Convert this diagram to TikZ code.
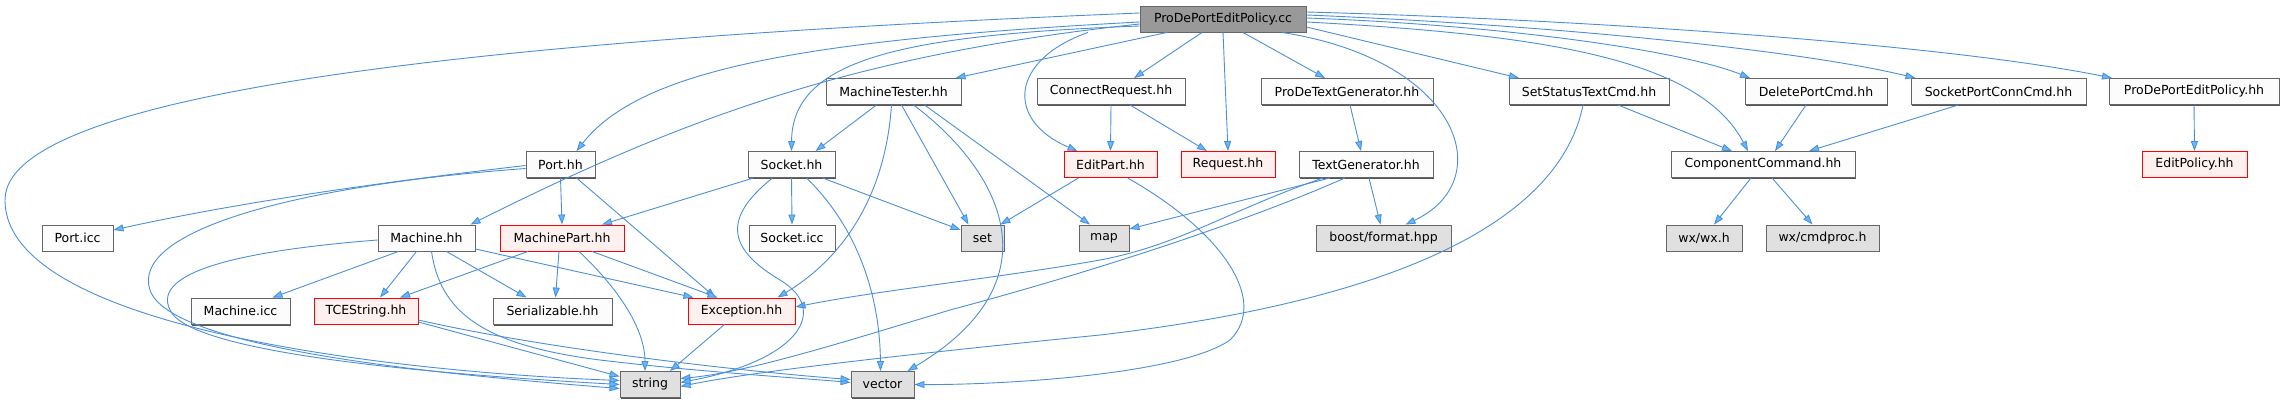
\documentclass[tikz,border=0pt]{standalone}
\usepackage{fontspec}
\setmainfont{DejaVu Sans}
\usetikzlibrary{arrows.meta}
\definecolor{edgec}{HTML}{4A8FD8}
\definecolor{arrowc}{HTML}{63B8FF}
\definecolor{nodeb}{HTML}{666666}
\definecolor{nodef}{HTML}{FBFCFB}
\definecolor{extf}{HTML}{E0E0E0}
\definecolor{rootf}{HTML}{999999}
\definecolor{redf}{HTML}{FFF0F0}
\definecolor{shadowc}{HTML}{555555}
\begin{document}
\begin{tikzpicture}[x=1pt,y=-1pt,
  base/.style={rectangle, inner sep=0pt, minimum height=26pt, font=\fontsize{12.5}{15}\selectfont, line width=0.9pt},
  box/.style={base, draw=nodeb, fill=nodef, preaction={fill=shadowc, draw=none, transform canvas={shift={(1.2pt,-1.5pt)}}}},
  extbox/.style={base, draw=nodeb, fill=extf, preaction={fill=shadowc, draw=none, transform canvas={shift={(1.2pt,-1.5pt)}}}},
  rootbox/.style={base, draw=nodeb, fill=rootf, preaction={fill=black!70, draw=none, transform canvas={shift={(1.2pt,-1.5pt)}}}},
  redbox/.style={base, draw=red, fill=redf},
  dep/.style={draw=edgec, line width=0.9pt, -{Triangle[length=10pt,width=7pt,fill=arrowc]}}]
\useasboundingbox (0,0) rectangle (2285,403);
% row 1
\node[rootbox, minimum width=166pt] (cc) at (1223,19) {ProDePortEditPolicy.cc};
% row 2
\node[box, minimum width=135pt] (mt) at (893.5,91.5) {MachineTester.hh};
\node[box, minimum width=148pt] (cr) at (1111,91.5) {ConnectRequest.hh};
\node[box, minimum width=172pt] (pdtg) at (1347,91.5) {ProDeTextGenerator.hh};
\node[box, minimum width=160pt] (sst) at (1589,91.5) {SetStatusTextCmd.hh};
\node[box, minimum width=142pt] (dpc) at (1816,91.5) {DeletePortCmd.hh};
\node[box, minimum width=175pt] (spc) at (1998.5,91.5) {SocketPortConnCmd.hh};
\node[box, minimum width=170pt] (pdh) at (2194,91.5) {ProDePortEditPolicy.hh};
% row 3
\node[box, minimum width=69pt] (port) at (560.5,164.5) {Port.hh};
\node[box, minimum width=87pt] (sock) at (791.5,164.5) {Socket.hh};
\node[redbox, minimum width=93pt] (ep) at (1110.5,164.5) {EditPart.hh};
\node[redbox, minimum width=94pt] (req) at (1228,164.5) {Request.hh};
\node[box, minimum width=134pt] (tg) at (1366,164.5) {TextGenerator.hh};
\node[box, minimum width=184pt] (cmd) at (1763,164.5) {ComponentCommand.hh};
\node[redbox, minimum width=105pt] (epol) at (2194.5,164.5) {EditPolicy.hh};
% row 4
\node[box, minimum width=71pt] (picc) at (77.5,238) {Port.icc};
\node[box, minimum width=97pt] (mach) at (426.5,238) {Machine.hh};
\node[redbox, minimum width=124pt] (mp) at (562,238) {MachinePart.hh};
\node[box, minimum width=86pt] (sicc) at (792,238) {Socket.icc};
\node[extbox, minimum width=43pt] (set) at (982.5,238) {set};
\node[extbox, minimum width=50pt] (map) at (1104,238) {map};
\node[extbox, minimum width=135pt] (bf) at (1383.5,238) {boost/format.hpp};
\node[extbox, minimum width=76pt] (wx) at (1704,238) {wx/wx.h};
\node[extbox, minimum width=113pt] (wxc) at (1822.5,238) {wx/cmdproc.h};
% row 5
\node[box, minimum width=99pt] (micc) at (240.5,311) {Machine.icc};
\node[redbox, minimum width=104pt] (tce) at (366,311) {TCEString.hh};
\node[box, minimum width=119pt] (ser) at (552.5,311) {Serializable.hh};
\node[redbox, minimum width=107pt] (exc) at (741.5,311) {Exception.hh};
% row 6
\node[extbox, minimum width=60pt] (str) at (650,384.5) {string};
\node[extbox, minimum width=63pt] (vec) at (882.5,384.5) {vector};

% edges from root
\draw[dep] ([yshift=6pt]cc.west) .. controls (600,35) and (5,80) .. (5,200) .. controls (5,330) and (400,372) .. ([yshift=4pt]str.west);
\draw[dep] ([yshift=-3pt]cc.west) .. controls (800,40) and (640,70) .. ([xshift=16pt]port.north);
\draw[dep] ([yshift=-5pt]cc.west) .. controls (850,55) and (680,120) .. ([xshift=44pt]mach.north);
\draw[dep] ([yshift=-7pt]cc.west) .. controls (900,35) and (792,60) .. (sock.north);
\draw[dep] ([xshift=-56pt]cc.south) -- ([xshift=62pt]mt.north);
\draw[dep] ([xshift=-135pt]cc.south) .. controls (1010,60) and (1005,120) .. ([xshift=-33pt]ep.north);
\draw[dep] ([xshift=-21pt]cc.south) -- ([xshift=23pt]cr.north);
\draw[dep] (cc.south) -- (req.north);
\draw[dep] ([xshift=20pt]cc.south) -- ([xshift=-22pt]pdtg.north);
\draw[dep] ([xshift=59pt]cc.south) .. controls (1460,60) and (1500,180) .. ([xshift=22pt]bf.north);
\draw[dep] ([yshift=-8pt]cc.east) -- ([xshift=-70pt]sst.north);
\draw[dep] ([yshift=-3pt]cc.east) .. controls (1550,35) and (1700,60) .. ([xshift=-15pt]cmd.north);
\draw[dep] ([yshift=1pt]cc.east) .. controls (1500,25) and (1680,50) .. ([xshift=-66pt]dpc.north);
\draw[dep] ([yshift=4pt]cc.east) .. controls (1550,25) and (1800,50) .. ([xshift=-83pt]spc.north);
\draw[dep] ([yshift=7pt]cc.east) .. controls (1600,20) and (1950,45) .. ([xshift=-82pt]pdh.north);

% second level
\draw[dep] (cr.south) -- (ep.north);
\draw[dep] ([xshift=19pt]cr.south) -- ([xshift=-21pt]req.north);
\draw[dep] ([xshift=3pt]pdtg.south) -- ([xshift=-5pt]tg.north);
\draw[dep] (pdh.south) -- (epol.north);
\draw[dep] ([xshift=29pt]sst.south) -- ([xshift=-31pt]cmd.north);
\draw[dep] ([xshift=-10pt]dpc.south) -- ([xshift=12pt]cmd.north);
\draw[dep] ([xshift=-40pt]spc.south) -- ([xshift=46pt]cmd.north);
\draw[dep] ([xshift=-6pt]sst.south) .. controls (1560,220) and (1400,300) .. (1100,335) .. controls (900,355) and (750,372) .. ([yshift=-2pt]str.east);
\draw[dep] ([xshift=-12pt]cmd.south) -- ([xshift=10pt]wx.north);
\draw[dep] ([xshift=9pt]cmd.south) -- ([xshift=-10pt]wxc.north);

% TextGenerator
\draw[dep] ([xshift=-36pt]tg.south) -- ([yshift=9pt]map.east);
\draw[dep] ([xshift=-43pt]tg.south) .. controls (1230,210) and (1180,245) .. (1100,260) .. controls (1000,278) and (880,290) .. ([yshift=4pt]exc.east);
\draw[dep] ([xshift=-21pt]tg.south) .. controls (1250,220) and (1100,270) .. (950,310) .. controls (850,340) and (750,372) .. ([yshift=6pt]str.east);
\draw[dep] ([xshift=3pt]tg.south) -- ([xshift=-3pt]bf.north);

% EditPart
\draw[dep] ([xshift=-32pt]ep.south) -- ([xshift=18pt]set.north);
\draw[dep] ([xshift=17pt]ep.south) .. controls (1220,230) and (1270,300) .. (1230,340) .. controls (1180,375) and (1000,385) .. (vec.east);

% MachineTester
\draw[dep] ([xshift=-17pt]mt.south) -- ([xshift=24pt]sock.north);
\draw[dep] ([xshift=-2pt]mt.south) .. controls (885,200) and (840,260) .. ([xshift=36pt]exc.north);
\draw[dep] ([xshift=8pt]mt.south) -- ([xshift=-14pt]set.north);
\draw[dep] ([xshift=20pt]mt.south) .. controls (1000,170) and (1060,280) .. ([xshift=25pt]vec.north);
\draw[dep] ([xshift=31pt]mt.south) -- ([xshift=-14pt]map.north);

% Socket
\draw[dep] ([xshift=-38pt]sock.south) -- ([xshift=40pt]mp.north);
\draw[dep] (sock.south) -- (sicc.north);
\draw[dep] ([xshift=31pt]sock.south) -- ([yshift=8pt]set.west);
\draw[dep] ([xshift=15pt]sock.south) .. controls (860,230) and (880,300) .. ([xshift=-2pt]vec.north);
\draw[dep] ([xshift=-19pt]sock.south) .. controls (720,220) and (730,250) .. (780,280) .. controls (830,310) and (800,360) .. ([yshift=2pt]str.east);

% Port
\draw[dep] ([yshift=-1pt]port.west) .. controls (400,180) and (250,200) .. ([yshift=8pt]picc.east);
\draw[dep] ([yshift=-4pt]port.west) .. controls (300,185) and (130,230) .. (150,290) .. controls (170,350) and (450,375) .. ([yshift=-4pt]str.west);
\draw[dep] (port.south) -- (mp.north);
\draw[dep] ([xshift=16pt]port.south) -- ([xshift=-26pt]exc.north);

% Machine
\draw[dep] ([xshift=-28pt]mach.south) -- ([xshift=32pt]micc.north);
\draw[dep] ([xshift=-10pt]mach.south) -- ([xshift=14pt]tce.north);
\draw[dep] ([xshift=20pt]mach.south) -- ([xshift=-26pt]ser.north);
\draw[dep] ([yshift=-11pt]mach.east) -- ([xshift=-48pt]exc.north);
\draw[dep] ([yshift=-2pt]mach.west) .. controls (250,250) and (150,270) .. (170,310) .. controls (190,355) and (450,375) .. ([yshift=0pt]str.west);
\draw[dep] ([xshift=5pt]mach.south) .. controls (440,310) and (480,345) .. (600,360) .. controls (700,372) and (800,378) .. ([yshift=2pt]vec.west);

% MachinePart
\draw[dep] ([xshift=-34pt]mp.south) -- ([xshift=34pt]tce.north);
\draw[dep] ([xshift=-3pt]mp.south) -- ([xshift=3pt]ser.north);
\draw[dep] ([xshift=17pt]mp.south) .. controls (620,290) and (645,330) .. ([xshift=-5pt]str.north);
\draw[dep] ([xshift=30pt]mp.south) -- ([xshift=-24pt]exc.north);

% TCEString and Exception
\draw[dep] ([yshift=-11pt]tce.east) -- ([yshift=8pt]str.west);
\draw[dep] ([yshift=-9pt]tce.east) .. controls (550,350) and (750,372) .. ([yshift=5pt]vec.west);
\draw[dep] ([xshift=-17pt]exc.south) -- ([xshift=20pt]str.north);
\end{tikzpicture}
\end{document}
